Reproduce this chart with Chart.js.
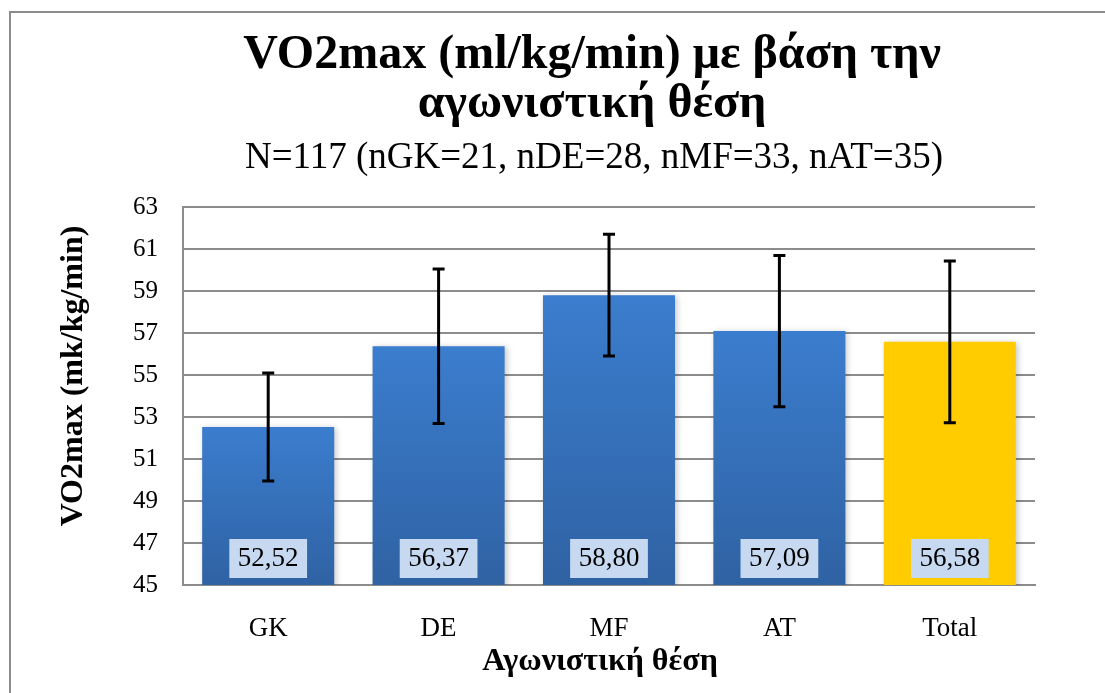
<!DOCTYPE html>
<html>
<head>
<meta charset="utf-8">
<script src="https://cdn.jsdelivr.net/npm/chart.js@4"></script>
<style>
html,body{margin:0;padding:0;background:#fff;}
#wrap{width:1105px;height:693px;position:relative;}
</style>
</head>
<body>
<div id="wrap"><canvas id="c" width="1105" height="693"></canvas></div>
<script>
const categories = ['GK', 'DE', 'MF', 'AT', 'Total'];
const means = [52.52, 56.37, 58.80, 57.09, 56.58];
const sds = [2.57, 3.68, 2.90, 3.60, 3.85];
const valueLabels = ['52,52', '56,37', '58,80', '57,09', '56,58'];
const yMin = 45, yMax = 63, yStep = 2;
const titleLines = ['VO2max (ml/kg/min) με βάση την', 'αγωνιστική θέση'];
const subtitleText = 'N=117 (nGK=21, nDE=28, nMF=33, nAT=35)';
const xTitleText = 'Αγωνιστική θέση';
const yTitleText = 'VO2max (mk/kg/min)';

const SERIF = '"Liberation Serif", "Times New Roman", serif';

const framePlugin = {
  id: 'frame',
  beforeDraw(chart) {
    const ctx = chart.ctx;
    ctx.save();
    ctx.fillStyle = '#fff';
    ctx.fillRect(0, 0, chart.width, chart.height);
    ctx.strokeStyle = '#8c8c8c';
    ctx.lineWidth = 2;
    ctx.strokeRect(10, 12, chart.width + 20, chart.height + 20);
    ctx.restore();
  },
  afterDraw(chart) {
    const ctx = chart.ctx;
    ctx.save();
    ctx.fillStyle = '#000';
    ctx.textAlign = 'center';
    ctx.textBaseline = 'alphabetic';
    ctx.font = 'bold 48px ' + SERIF;
    ctx.fillText(titleLines[0], 592, 68);
    ctx.fillText(titleLines[1], 592, 117);
    ctx.font = '37px ' + SERIF;
    ctx.fillText(subtitleText, 594, 168);
    ctx.font = 'bold 32px ' + SERIF;
    ctx.textBaseline = 'middle';
    ctx.fillText(xTitleText, 600, 662);
    ctx.translate(74, 376);
    ctx.rotate(-Math.PI / 2);
    ctx.fillText(yTitleText, 0, 0);
    ctx.restore();
  }
};

const shadowPlugin = {
  id: 'barshadow',
  beforeDatasetsDraw(chart) {
    const ctx = chart.ctx;
    ctx.save();
    ctx.shadowColor = 'rgba(0,0,0,0.22)';
    ctx.shadowBlur = 6;
    ctx.shadowOffsetX = 2;
    ctx.shadowOffsetY = 1;
  },
  afterDatasetsDraw(chart) {
    chart.ctx.restore();
  }
};

const errorPlugin = {
  id: 'errbars',
  afterDatasetsDraw(chart) {
    const ctx = chart.ctx;
    const meta = chart.getDatasetMeta(0);
    const y = chart.scales.y;
    ctx.save();
    meta.data.forEach((bar, i) => {
      const cx = bar.x;
      const by = chart.chartArea.bottom;
      ctx.font = '27px ' + SERIF;
      const tw = ctx.measureText(valueLabels[i]).width;
      const bw = tw + 17, bh = 39;
      ctx.fillStyle = '#c6d9f1';
      ctx.fillRect(cx - bw / 2, by - 46, bw, bh);
      ctx.fillStyle = '#000';
      ctx.textAlign = 'center';
      ctx.textBaseline = 'middle';
      ctx.fillText(valueLabels[i], cx, by - 26);
    });
    ctx.strokeStyle = '#000';
    ctx.lineWidth = 3;
    meta.data.forEach((bar, i) => {
      const cx = bar.x;
      const t = y.getPixelForValue(means[i] + sds[i]);
      const b = y.getPixelForValue(means[i] - sds[i]);
      ctx.beginPath();
      ctx.moveTo(cx, t); ctx.lineTo(cx, b);
      ctx.moveTo(cx - 6, t); ctx.lineTo(cx + 6, t);
      ctx.moveTo(cx - 6, b); ctx.lineTo(cx + 6, b);
      ctx.stroke();
    });
    ctx.restore();
  }
};

function barColor(context) {
  const chart = context.chart;
  const area = chart.chartArea;
  const i = context.dataIndex;
  if (categories[i] === 'Total') return '#ffcc00';
  if (!area) return '#3a78c6';
  const top = chart.scales.y.getPixelForValue(means[i]);
  const g = chart.ctx.createLinearGradient(0, top, 0, area.bottom);
  g.addColorStop(0, '#3b7dce');
  g.addColorStop(1, '#2f62a3');
  return g;
}

new Chart(document.getElementById('c'), {
  type: 'bar',
  data: {
    labels: categories,
    datasets: [{
      data: means,
      backgroundColor: barColor,
      borderWidth: 0,
      categoryPercentage: 1,
      barPercentage: 0.775
    }]
  },
  plugins: [framePlugin, shadowPlugin, errorPlugin],
  options: {
    responsive: false,
    animation: false,
    devicePixelRatio: 1,
    layout: { padding: { left: 0, right: 70, top: 207, bottom: 0 } },
    plugins: {
      legend: { display: false },
      tooltip: { enabled: false },
      title: { display: false },
      subtitle: { display: false }
    },
    scales: {
      x: {
        afterFit(scale) { scale.height = 108; },
        grid: { display: false, drawTicks: false },
        border: { display: true, color: '#8c8c8c', width: 2 },
        ticks: { color: '#000', font: { family: SERIF, size: 27 }, padding: 28 }
      },
      y: {
        min: yMin, max: yMax,
        afterFit(scale) { scale.width = 183; },
        grid: { color: '#8c8c8c', lineWidth: 2, drawTicks: false },
        border: { display: true, color: '#8c8c8c', width: 2 },
        ticks: { stepSize: yStep, color: '#000', font: { family: SERIF, size: 25 }, padding: 25 }
      }
    }
  }
});
</script>
</body>
</html>
